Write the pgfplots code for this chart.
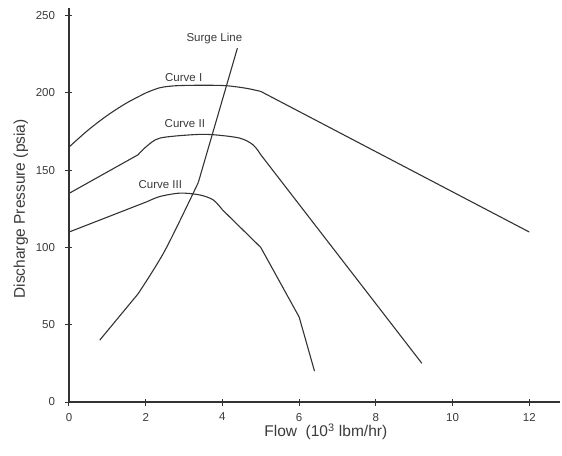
\documentclass[border=0pt]{standalone}
\usepackage{pgfplots}
\pgfplotsset{compat=1.18}
\usepackage{fontspec}
\setmainfont{Liberation Sans}
\definecolor{ink}{HTML}{333333}
\definecolor{txt}{HTML}{3A3A3A}
\begin{document}
\begin{tikzpicture}
\useasboundingbox (-69pt,-53pt) rectangle (493pt,402pt);
\begin{axis}[
  at={(0,0)}, anchor=south west,
  scale only axis, width=491pt, height=394pt,
  xmin=0, xmax=12.8, ymin=0, ymax=255,
  axis x line=bottom, axis y line=left,
  axis line style={-, ink, line width=1.1pt},
  xtick={0,2,4,6,8,10,12}, ytick={0,50,100,150,200,250},
  tick align=center, major tick length=7pt,
  tick style={ink, line width=1pt},
  /pgf/number format/assume math mode=true,
  ticklabel style={font=\fontsize{11.5}{13}\selectfont, text=txt},
  xticklabel style={yshift=-4pt},
  yticklabel style={xshift=-7pt},
  xlabel={Flow~~(10\textsuperscript{3} lbm/hr)},
  ylabel={Discharge Pressure (psia)},
  label style={font=\fontsize{15.5}{18}\selectfont, text=txt},
  xlabel style={at={(axis description cs:0.523,-0.076)}, anchor=center},
  ylabel style={at={(axis description cs:-0.098,0.49)}, anchor=center},
  clip=false,
  crv/.style={ink, line width=1.1pt, mark=none, solid},
]
% Curve I
\addplot[crv, smooth] coordinates {(0,165) (0.5,176) (1,185.5) (1.5,193.5) (2,200)};
\addplot[crv, smooth] coordinates {(2,200) (2.37,203.4) (2.8,204.7) (3.5,205) (4.1,204.7) (4.63,203) (5,201)};
\addplot[crv] coordinates {(5,201) (12,110)};
% Curve II
\addplot[crv] coordinates {(0,135) (1.8,160)};
\addplot[crv, smooth] coordinates {(1.8,160) (2.02,165.4) (2.37,170.8) (3.23,173) (3.75,173) (4.45,170.8) (4.8,166.4) (5,160)};
\addplot[crv] coordinates {(5,160) (9.2,25)};
% Curve III
\addplot[crv] coordinates {(0,110) (2.04,129.7)};
\addplot[crv, smooth] coordinates {(2.04,129.7) (2.37,133) (2.9,135.2) (3.41,134) (3.76,130.8) (4,124.4)};
\addplot[crv] coordinates {(4,124.4) (5,100) (6,55) (6.4,20)};
% Surge line
\addplot[crv] coordinates {(0.8,40) (1.8,70)};
\addplot[crv, smooth] coordinates {(1.8,70) (2.5,98) (3.37,142)};
\addplot[crv] coordinates {(3.37,142) (4.39,229)};
% labels
\node[text=txt, font=\fontsize{11.5}{13}\selectfont] at (axis cs:3.79,235) {Surge Line};
\node[text=txt, font=\fontsize{11.5}{13}\selectfont] at (axis cs:2.99,210) {Curve I};
\node[text=txt, font=\fontsize{11.5}{13}\selectfont] at (axis cs:3.02,180) {Curve II};
\node[text=txt, font=\fontsize{11.5}{13}\selectfont] at (axis cs:2.38,140.5) {Curve III};
\end{axis}
\end{tikzpicture}
\end{document}
